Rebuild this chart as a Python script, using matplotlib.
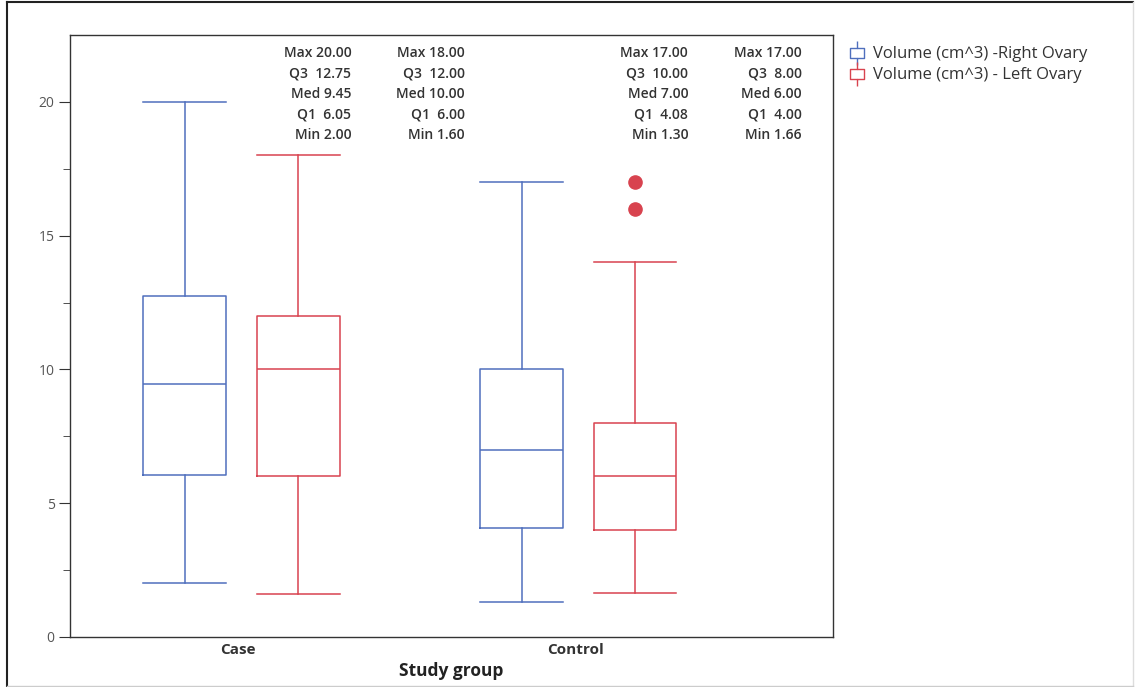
import matplotlib.pyplot as plt
from matplotlib.path import Path
from matplotlib.lines import Line2D

# five-number summaries per study group
groups = ["Case", "Control"]
right_max = [20.00, 17.00]
right_q3 = [12.75, 10.00]
right_med = [9.45, 7.00]
right_q1 = [6.05, 4.08]
right_min = [2.00, 1.30]
right_whishi = [20.00, 17.00]
right_fliers = [[], []]

left_max = [18.00, 17.00]
left_q3 = [12.00, 8.00]
left_med = [10.00, 6.00]
left_q1 = [6.00, 4.00]
left_min = [1.60, 1.66]
left_whishi = [18.00, 14.00]
left_fliers = [[], [16.0, 17.0]]

series_names = ["Volume (cm^3) -Right Ovary", "Volume (cm^3) - Left Ovary"]

blue = "#4f6fbd"
red = "#d8434f"
txt = "#333333"

plt.rcParams['font.family'] = ['Open Sans', 'DejaVu Sans']

fig = plt.figure(figsize=(11.35, 6.87), dpi=100)
ax = fig.add_axes([70/1135, 50/687, 763/1135, 602/687])

bw = 0.246


def stats(lo, q1, med, q3, hi, fl):
    return dict(whislo=lo, q1=q1, med=med, q3=q3, whishi=hi, fliers=fl)


series = [
    (right_min, right_q1, right_med, right_q3, right_whishi, right_fliers,
     right_max, blue, -0.159),
    (left_min, left_q1, left_med, left_q3, left_whishi, left_fliers,
     left_max, red, 0.178),
]

for lo, q1, med, q3, hi, fl, mx, col, off in series:
    st = [stats(lo[i], q1[i], med[i], q3[i], hi[i], fl[i]) for i in range(len(groups))]
    pos = [i + 1 + off for i in range(len(groups))]
    ax.bxp(st, positions=pos, widths=bw, capwidths=bw, showfliers=True,
           boxprops=dict(color=col, lw=1.1),
           whiskerprops=dict(color=col, lw=1.1),
           capprops=dict(color=col, lw=1.1),
           medianprops=dict(color=col, lw=1.1),
           flierprops=dict(marker='o', markerfacecolor=col, markeredgecolor=col,
                           markersize=9.5))
    # summary labels above each box
    for i in range(len(groups)):
        lines = ["Max %.2f" % mx[i], "Q3  %.2f" % q3[i], "Med %.2f" % med[i],
                 "Q1  %.2f" % q1[i], "Min %.2f" % lo[i]]
        for j, s in enumerate(lines):
            ax.text(pos[i] + 0.495, 0.970 - j * 0.0342, s,
                    transform=ax.get_xaxis_transform(), ha='right', va='center',
                    fontsize=10, fontweight='semibold', color=txt)

ax.set_xlim(0.5, 2.766)
ax.set_ylim(0, 22.5)
ax.set_xticks([1, 2])
ax.set_xticklabels(groups, fontsize=11, fontweight='bold', color=txt)
ax.tick_params(axis='x', length=0, pad=4)
ax.set_yticks([0, 5, 10, 15, 20])
ax.set_yticks([2.5, 7.5, 12.5, 17.5], minor=True)
ax.tick_params(axis='y', which='major', length=8, labelsize=10, labelcolor='#555555',
               color='#333333', pad=3)
ax.tick_params(axis='y', which='minor', length=5, color='#333333')
ax.set_xlabel("Study group", fontsize=12.5, fontweight='bold', color='#222222',
              labelpad=4)
for sp in ax.spines.values():
    sp.set_color('#333333')
    sp.set_linewidth(1.0)

# legend glyph: small box with whisker ends
glyph = Path([(0, -1), (0, -0.4), (-0.6, -0.4), (-0.6, 0.4), (0, 0.4),
              (0, 1), (0, 0.4), (0.6, 0.4), (0.6, -0.4), (0, -0.4)],
             [Path.MOVETO, Path.LINETO, Path.LINETO, Path.LINETO, Path.LINETO,
              Path.LINETO, Path.MOVETO, Path.LINETO, Path.LINETO, Path.LINETO])
handles = [Line2D([], [], ls='none', marker=glyph, markersize=17, markeredgewidth=1.0,
                  markerfacecolor='none', markeredgecolor=c) for c in (blue, red)]
fig.legend(handles, series_names, loc='upper left', bbox_to_anchor=(840/1135, 1 - 38/687),
           frameon=False, fontsize=12, handlelength=1.0, handletextpad=0.5,
           labelspacing=0.3, borderpad=0, labelcolor='#333333')

# outer frame of the figure
fig.add_artist(Line2D([7/1135, 7/1135], [1/687, 1 - 2/687], color='#222222', lw=1.5,
                      transform=fig.transFigure))
fig.add_artist(Line2D([7/1135, 1133/1135], [1 - 2/687, 1 - 2/687], color='#222222',
                      lw=1.5, transform=fig.transFigure))
fig.add_artist(Line2D([1133/1135, 1133/1135], [1/687, 1 - 2/687], color='#dddddd',
                      lw=1.0, transform=fig.transFigure))
fig.add_artist(Line2D([7/1135, 1133/1135], [1/687, 1/687], color='#cccccc', lw=1.0,
                      transform=fig.transFigure))

fig.savefig("out.png", dpi=100)
